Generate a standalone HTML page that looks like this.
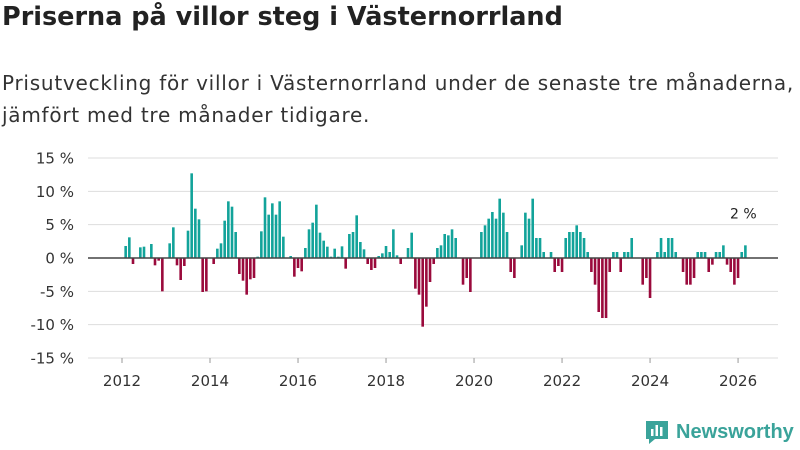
<!DOCTYPE html>
<html><head><meta charset="utf-8">
<style>
body{margin:0;width:800px;height:450px;background:#fff;font-family:"DejaVu Sans","Liberation Sans",sans-serif;color:#222;overflow:hidden;position:relative}
#title{position:absolute;left:2px;top:2px;font-size:25.5px;font-weight:bold;margin:0;white-space:nowrap}
#sub{position:absolute;left:2px;top:67px;font-size:20px;letter-spacing:0.75px;line-height:32px;color:#333;margin:0;white-space:nowrap}
svg{position:absolute;left:0;top:0}
</style></head><body>
<h1 id="title">Priserna på villor steg i Västernorrland</h1>
<p id="sub">Prisutveckling för villor i Västernorrland under de senaste tre månaderna,<br>jämfört med tre månader tidigare.</p>
<svg id="chart" width="800" height="450"></svg>
<script>
const startYear = 2012;
const yTicks = [15,10,5,0,-5,-10,-15];
const xTickYears = [2012,2014,2016,2018,2020,2022,2024,2026];
const values = [0,1.8,3.1,-0.9,0,1.6,1.7,0,2.1,-1.1,-0.4,-5,0,2.2,4.6,-1.1,-3.3,-1.2,4.1,12.7,7.4,5.8,-5.1,-5,0,-0.9,1.4,2.2,5.6,8.5,7.7,3.9,-2.4,-3.4,-5.5,-3.2,-3,0.2,4,9.1,6.5,8.2,6.5,8.5,3.2,0,0.3,-2.8,-1.5,-2,1.5,4.3,5.3,8,3.8,2.6,1.7,0.2,1.4,0.2,1.75,-1.6,3.6,3.9,6.4,2.4,1.3,-0.9,-1.8,-1.5,0.3,0.7,1.8,0.9,4.3,0.4,-0.9,0,1.5,3.8,-4.6,-5.5,-10.3,-7.3,-3.6,-0.9,1.5,1.9,3.6,3.4,4.3,3,0,-4,-3,-5.1,0,0,3.9,4.9,5.9,6.9,5.9,8.9,6.8,3.9,-2.1,-3,0,1.9,6.8,5.9,8.9,3,3,0.9,0,0.9,-2.1,-1.2,-2.1,3,3.9,3.9,4.9,3.9,3,0.9,-2.1,-4,-8.1,-9,-9,-2.1,0.9,0.9,-2.1,0.9,0.9,3,0,0,-4,-3,-6,0,0.9,3,0.9,3,3,0.9,0,-2.1,-4,-4,-3,0.9,0.9,0.9,-2.1,-1,0.9,0.9,1.9,-1,-2.1,-4,-3,0.9,1.9];
const lastLabel = "2 %";

const NS="http://www.w3.org/2000/svg";
const svg=document.getElementById('chart');
const x0=122, monthW=3.667, left=88, right=778;
const yScale=v=>258 - v*6.667;
const xScale=m=>x0 + m*monthW;
function mk(t,a){const e=document.createElementNS(NS,t);for(const k in a)e.setAttribute(k,a[k]);svg.appendChild(e);return e;}
yTicks.forEach(t=>{
  const g=mk('line',{x1:left,x2:right,y1:yScale(t),y2:yScale(t),stroke:'#ddd','stroke-width':1});
  
  
  const l=mk('text',{x:74,y:yScale(t)+5.5,'text-anchor':'end','font-size':15,fill:'#333'});
  l.textContent=t+' %';
  
  
});
xTickYears.forEach(yr=>{
  const x=xScale((yr-startYear)*12);
  const tk=mk('line',{x1:x,x2:x,y1:358,y2:363,stroke:'#999'});
  
  
  const l=mk('text',{x:x,y:386,'text-anchor':'middle','font-size':15,fill:'#333'});
  l.textContent=yr;
  
  
});
values.forEach((v,i)=>{
  if(v===0)return;
  const x=xScale(i)-1.3;
  const y=Math.min(yScale(v),yScale(0));
  const r=mk('rect',{x:x,y:y,width:2.6,height:Math.abs(yScale(v)-yScale(0)),fill:v>0?'#12a39a':'#9a0a3c'});
  
  
});
const z=mk('line',{x1:left,x2:right,y1:yScale(0),y2:yScale(0),stroke:'#444','stroke-width':1.5});


const li=values.length-1;
const lab=mk('text',{x:xScale(li)-2,y:yScale(values[li])-27,'text-anchor':'middle','font-size':14,fill:'#222'});
lab.textContent=lastLabel;


</script>
<div style="position:absolute;left:645px;top:419px;display:flex;align-items:center">
<svg width="24" height="26" style="position:static" viewBox="0 0 24 26"><path d="M1 2h22v18h-13l-6 5v-5h-3z" fill="#3aa39a"/><rect x="6" y="10" width="2.5" height="7" fill="#fff"/><rect x="10.5" y="6" width="2.5" height="11" fill="#fff"/><rect x="15" y="8" width="2.5" height="9" fill="#fff"/></svg>
<span style="font-family:'Liberation Sans',sans-serif;font-size:20px;color:#3aa39a;font-weight:bold;margin-left:7px">Newsworthy</span></div>
</body></html>
